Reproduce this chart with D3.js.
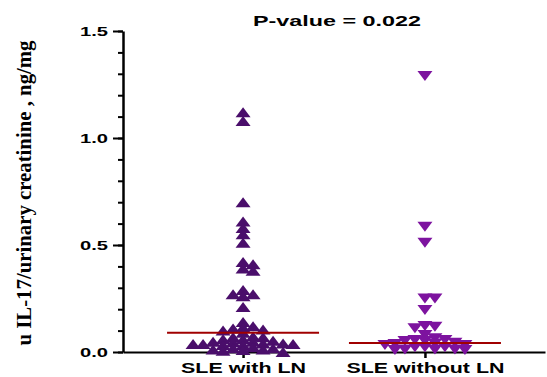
<!DOCTYPE html>
<html>
<head>
<meta charset="utf-8">
<script src="https://cdn.jsdelivr.net/npm/d3@7"></script>
<style>
  body { margin: 0; background: #fff; }
  text { font-family: "Liberation Sans", Arial, sans-serif; font-weight: bold; }
</style>
</head>
<body>
<div id="chart"></div>
<script>
// values
const groups = ["SLE with LN", "SLE without LN"];
const withLN = [1.12, 1.08, 0.70, 0.61, 0.58, 0.55, 0.51, 0.42, 0.41, 0.39, 0.38,
  0.29, 0.27, 0.27, 0.26, 0.21, 0.14, 0.12, 0.115, 0.11, 0.105, 0.10, 0.09,
  0.072, 0.069, 0.069, 0.06, 0.059, 0.053, 0.048, 0.048, 0.045, 0.04, 0.04,
  0.037, 0.037, 0.037, 0.033, 0.033, 0.022, 0.017, 0.017, 0.012, 0.012, 0.009, 0.006, 0.0];
const withoutLN = [1.29, 0.585, 0.51, 0.25, 0.25, 0.196, 0.121, 0.118, 0.111, 0.079,
  0.064, 0.056, 0.056, 0.051, 0.051, 0.043, 0.04, 0.037, 0.033, 0.033, 0.022,
  0.022, 0.022, 0.012, 0.012, 0.012, 0.009, 0.009];
const medians = [0.09, 0.042];
const yTicks = [0, 0.5, 1.0, 1.5];
const pValue = "P-value = 0.022";
const yTitle = "u IL-17/urinary creatinine , ng/mg";

const w = 547, h = 377;
const colors = ["#4a0e6b", "#7d139f"];

const svg = d3.select("#chart").append("svg")
  .attr("width", w).attr("height", h);

const x = d3.scalePoint().domain(groups).range([123, 545]).padding(0.66);
const y = d3.scaleLinear().domain([0, 1.5]).range([352, 31]);

// minor ticks
svg.append("g")
  .attr("transform", "translate(123,0)")
  .call(d3.axisLeft(y).tickValues(d3.range(0, 1.51, 0.1)).tickSize(5).tickFormat(""))
  .call(g => g.select(".domain").remove())
  .selectAll("line").attr("stroke", "#000").attr("stroke-width", 2);

// y axis
const yAxis = svg.append("g")
  .attr("transform", "translate(123,0)")
  .call(d3.axisLeft(y).tickValues(yTicks).tickSize(10).tickSizeOuter(0).tickPadding(5)
    .tickFormat(d3.format(".1f")));
yAxis.select(".domain").attr("stroke-width", 2.5);
yAxis.selectAll("line").attr("stroke-width", 2);
yAxis.selectAll("text").attr("font-size", 13).attr("textLength", 28)
  .attr("lengthAdjust", "spacingAndGlyphs").attr("fill", "#000");

// x axis
const xAxis = svg.append("g")
  .attr("transform", "translate(0,352)")
  .call(d3.axisBottom(x).tickSize(6).tickSizeOuter(0).tickPadding(6));
xAxis.select(".domain").attr("stroke-width", 2);
xAxis.selectAll("line").attr("stroke-width", 2.5);
xAxis.selectAll("text").attr("font-size", 14).attr("y", 21).attr("dy", 0)
  .attr("fill", "#000")
  .attr("textLength", (d, i) => i === 0 ? 125 : 158)
  .attr("lengthAdjust", "spacingAndGlyphs");

// beeswarm placement, triangles may overlap a bit like the original
function swarm(values, cx) {
  const placed = [];
  const sorted = values.slice().sort((a, b) => b - a);
  sorted.forEach(v => {
    const cy = y(v);
    let off = 0;
    for (let k = 0; k < 200; k++) {
      const cand = k === 0 ? 0 : (k % 2 ? 1 : -1) * Math.ceil(k / 2) * 2;
      const hit = placed.some(p => Math.abs(p.x - (cx + cand)) < 9 && Math.abs(p.y - cy) < 5);
      if (!hit) { off = cand; break; }
    }
    placed.push({x: cx + off, y: cy, v: v});
  });
  return placed;
}

const up = "M-7.5,5L7.5,5L0,-5Z";
const down = "M-7.5,-5L7.5,-5L0,5Z";

[withLN, withoutLN].forEach((vals, i) => {
  const pts = swarm(vals, x(groups[i]));
  svg.append("g").selectAll("path")
    .data(pts)
    .enter()
    .append("path")
    .attr("d", i === 0 ? up : down)
    .attr("transform", d => "translate(" + d.x + "," + d.y + ")")
    .attr("fill", colors[i]);
});

// medians
svg.selectAll(".median")
  .data(medians)
  .enter()
  .append("line")
  .attr("class", "median")
  .attr("x1", (d, i) => x(groups[i]) - 76)
  .attr("x2", (d, i) => x(groups[i]) + 76)
  .attr("y1", d => y(d))
  .attr("y2", d => y(d))
  .attr("stroke", "#a00000")
  .attr("stroke-width", 2);

// title
svg.append("text")
  .attr("x", 337).attr("y", 26)
  .attr("text-anchor", "middle")
  .attr("font-size", 15)
  .attr("textLength", 168)
  .attr("lengthAdjust", "spacingAndGlyphs")
  .text(pValue);

// y title
svg.append("text")
  .attr("transform", "translate(31,193) rotate(-90)")
  .attr("text-anchor", "middle")
  .style("font-family", "'Liberation Serif', 'Times New Roman', serif")
  .attr("font-size", 20)
  .attr("textLength", 305)
  .attr("lengthAdjust", "spacingAndGlyphs")
  .text(yTitle);
</script>
</body>
</html>
